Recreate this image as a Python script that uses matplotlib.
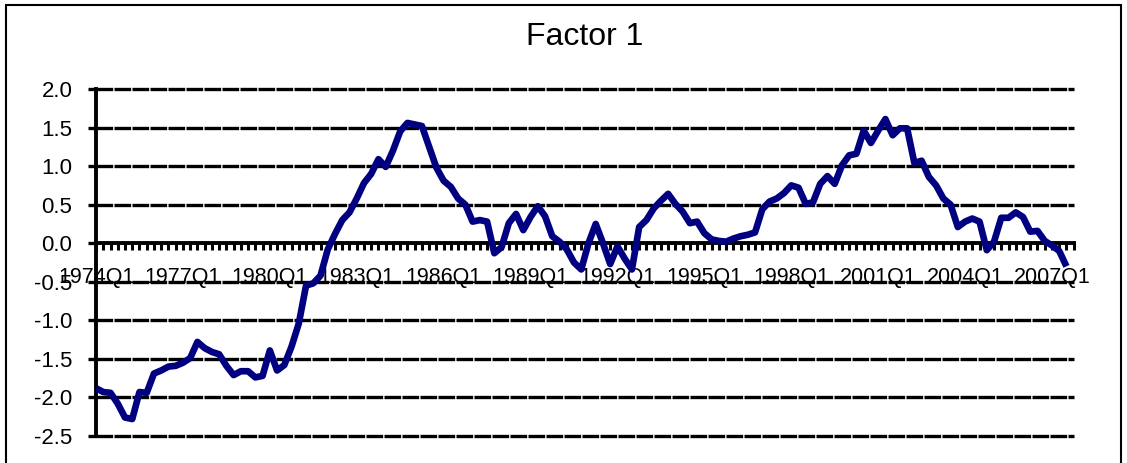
import matplotlib.pyplot as plt
from matplotlib.patches import Rectangle
from matplotlib.ticker import MultipleLocator, FormatStrFormatter

plt.rcParams['font.family'] = ['Liberation Sans', 'DejaVu Sans']

# quarterly categories 1974Q1 .. 2007Q3
quarters = [f"{y}Q{q}" for y in range(1974, 2008) for q in range(1, 5)][:135]

factor1 = [
    -1.88, -1.93, -1.94, -2.08, -2.26, -2.28, -1.93, -1.94, -1.69, -1.65,
    -1.60, -1.59, -1.55, -1.49, -1.28, -1.36, -1.41, -1.44, -1.59, -1.71,
    -1.66, -1.66, -1.74, -1.72, -1.39, -1.65, -1.58, -1.34, -1.04, -0.55,
    -0.52, -0.42, -0.08, 0.12, 0.30, 0.40, 0.58, 0.78, 0.90, 1.09,
    0.99, 1.20, 1.45, 1.56, 1.54, 1.52, 1.25, 0.98, 0.81, 0.73,
    0.58, 0.50, 0.28, 0.30, 0.28, -0.13, -0.05, 0.26, 0.38, 0.17,
    0.34, 0.48, 0.35, 0.09, 0.02, -0.08, -0.25, -0.34, 0.00, 0.25,
    0.00, -0.27, -0.04, -0.20, -0.34, 0.21, 0.30, 0.45, 0.55, 0.64,
    0.51, 0.41, 0.26, 0.28, 0.13, 0.05, 0.03, 0.02, 0.06, 0.09,
    0.11, 0.14, 0.44, 0.54, 0.58, 0.65, 0.75, 0.72, 0.51, 0.53,
    0.77, 0.87, 0.77, 1.01, 1.14, 1.16, 1.46, 1.30, 1.46, 1.61,
    1.40, 1.49, 1.49, 1.04, 1.07, 0.86, 0.75, 0.58, 0.50, 0.21,
    0.28, 0.32, 0.28, -0.09, 0.02, 0.33, 0.33, 0.40, 0.34, 0.15,
    0.16, 0.03, -0.03, -0.10, -0.30,
]

yticks = [-2.5, -2.0, -1.5, -1.0, -0.5, 0.0, 0.5, 1.0, 1.5, 2.0]
label_step = 12

fig = plt.figure(figsize=(11.27, 4.63), dpi=100)
ax = fig.add_axes([0.0852, 0.0583, 0.8675, 0.7495])

x = list(range(len(quarters)))
ax.plot(x, factor1, color='#000080', lw=4.8, solid_joinstyle='round',
        solid_capstyle='butt', zorder=3)

ax.set_xlim(0, len(quarters))
ax.set_ylim(yticks[0], yticks[-1])

for v in yticks:
    if v != 0:
        ax.axhline(v, color='black', lw=2.4, linestyle=(0, (5, 0.4)),
                   zorder=1, clip_on=False)

ax.set_yticks(yticks)
ax.yaxis.set_major_formatter(FormatStrFormatter('%.1f'))
ax.set_xticks(x[::label_step])
ax.set_xticklabels(quarters[::label_step])
ax.xaxis.set_minor_locator(MultipleLocator(1))

for s in ['top', 'right']:
    ax.spines[s].set_visible(False)
ax.spines['bottom'].set_position(('data', 0))
ax.spines['bottom'].set_linewidth(2.8)
ax.spines['left'].set_linewidth(2.8)

ax.tick_params(axis='y', direction='out', length=6, width=2.4, pad=11,
               labelsize=16)
ax.tick_params(axis='x', which='both', direction='out', length=5, width=2.2,
               pad=12, labelsize=15.5)

ax.set_title('Factor 1', fontsize=23, pad=32)

fig.patches.append(Rectangle((6 / 1127, -0.05), 1115 / 1127, 1.05 - 5 / 463,
                             transform=fig.transFigure, fill=False,
                             lw=1.5, ec='black'))

fig.savefig('out.png', dpi=100)
